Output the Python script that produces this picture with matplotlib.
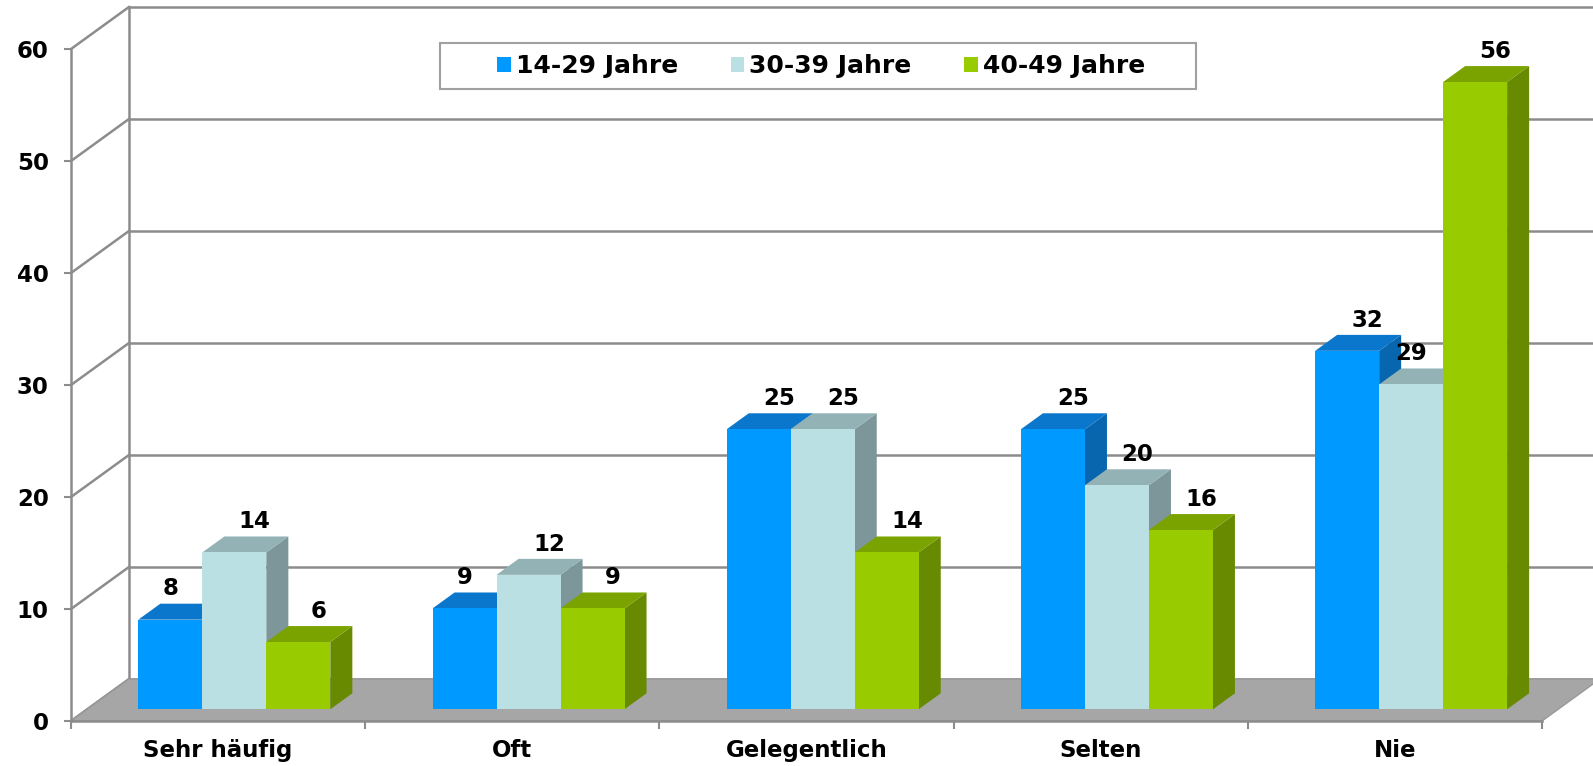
import numpy as np
import matplotlib.pyplot as plt
from matplotlib.patches import Polygon, Rectangle, Patch

plt.rcParams["font.family"] = "DejaVu Sans"
plt.rcParams["font.weight"] = "bold"

categories = ["Sehr häufig", "Oft", "Gelegentlich", "Selten", "Nie"]
series = ["14-29 Jahre", "30-39 Jahre", "40-49 Jahre"]
values_14_29 = [8, 9, 25, 25, 32]
values_30_39 = [14, 12, 25, 20, 29]
values_40_49 = [6, 9, 14, 16, 56]
y_ticks = [0, 10, 20, 30, 40, 50, 60]

# colours: front, top, side
front_cols = ["#0099FF", "#BBE0E3", "#99CC00"]
top_cols = ["#0A77CC", "#93B2B5", "#7AA300"]
side_cols = ["#0866AE", "#7C9699", "#678A00"]
GRID = "#8C8C8C"
FLOOR = "#A6A6A6"

# pseudo 3D geometry (in data units)
DX, DY = 0.197, 3.75      # depth shift of the back wall
F_FRONT, F_BACK = 0.28, 0.66   # bar depth position (fraction of floor depth)
W = 0.2175                 # bar width
GAP = (1 - 3 * W) / 2
X_RIGHT = 5 + DX

fig = plt.figure(figsize=(15.93, 7.66), dpi=100)
ax = fig.add_axes([71 / 1593, 45 / 766, 1471 / 1593, 672 / 766])
ax.set_xlim(0, 5)
ax.set_ylim(0, 60)
ax.patch.set_visible(False)

# back wall + side wall gridlines
for v in y_ticks:
    ax.plot([DX, X_RIGHT], [v + DY, v + DY], color=GRID, lw=1.8, clip_on=False, zorder=1)
    ax.plot([0, DX], [v, v + DY], color=GRID, lw=1.8, clip_on=False, zorder=1)
ax.plot([DX, DX], [DY, 60 + DY], color=GRID, lw=1.8, clip_on=False, zorder=1)

# floor
floor = Polygon([(0, 0), (DX, DY), (X_RIGHT, DY), (5, 0)], closed=True,
                facecolor=FLOOR, edgecolor="#999999", lw=1.0, clip_on=False, zorder=2)
ax.add_patch(floor)


def draw_bar(x0, v, k):
    fx, fy = x0 + F_FRONT * DX, F_FRONT * DY
    bdx, bdy = (F_BACK - F_FRONT) * DX, (F_BACK - F_FRONT) * DY
    side = Polygon([(fx + W, fy), (fx + W + bdx, fy + bdy),
                    (fx + W + bdx, fy + v + bdy), (fx + W, fy + v)],
                   closed=True, facecolor=side_cols[k], edgecolor="none", clip_on=False, zorder=3)
    top = Polygon([(fx, fy + v), (fx + bdx, fy + v + bdy),
                   (fx + W + bdx, fy + v + bdy), (fx + W, fy + v)],
                  closed=True, facecolor=top_cols[k], edgecolor="none", clip_on=False, zorder=3)
    front = Rectangle((fx, fy), W, v, facecolor=front_cols[k], edgecolor="none",
                      clip_on=False, zorder=3)
    for p in (side, top, front):
        ax.add_patch(p)


all_vals = [values_14_29, values_30_39, values_40_49]
for i in range(len(categories)):
    for k in range(3):
        draw_bar(i + GAP + k * W, all_vals[k][i], k)

# data labels
for i in range(len(categories)):
    for k in range(3):
        v = all_vals[k][i]
        cx = i + GAP + k * W + W / 2 + F_FRONT * DX
        nxt = all_vals[k + 1][i] if k < 2 else None
        if nxt is None or nxt <= v:
            cx += 0.35 * DX
        ax.text(cx, v + F_BACK * DY + 0.3, str(v), ha="center", va="bottom",
                fontsize=16.5, fontweight="bold", color="black", zorder=5, clip_on=False)

# axes styling
for s in ("top", "right"):
    ax.spines[s].set_visible(False)
for s in ("left", "bottom"):
    ax.spines[s].set_color(GRID)
    ax.spines[s].set_linewidth(1.8)
    ax.spines[s].set_zorder(4)

ax.set_yticks(y_ticks)
ax.tick_params(axis="y", length=5, width=1.5, color=GRID, pad=11, labelsize=16.5)
ax.set_xticks(range(6))
ax.set_xticklabels([])
ax.tick_params(axis="x", which="major", length=6, width=1.5, color=GRID)
ax.set_xticks(np.arange(len(categories)) + 0.5, minor=True)
ax.set_xticklabels(categories, minor=True)
ax.tick_params(axis="x", which="minor", length=0, pad=13, labelsize=16.5)
for lbl in ax.get_yticklabels() + ax.get_xticklabels(minor=True):
    lbl.set_fontweight("bold")

# legend (frame drawn separately)
fig.patches.append(Rectangle((440 / 1593, 1 - 89 / 766), 756 / 1593, 46 / 766,
                             transform=fig.transFigure, facecolor="white",
                             edgecolor="#A0A0A0", lw=1.5, zorder=4))
handles = [Patch(facecolor=c, edgecolor="none") for c in front_cols]
leg = fig.legend(handles, series, loc="center", ncol=3,
                 bbox_to_anchor=(821 / 1593, 1 - 66 / 766),
                 frameon=False, handlelength=0.55, handleheight=0.55,
                 handletextpad=0.2, columnspacing=2.1,
                 prop={"size": 18, "weight": "bold"})
leg.set_zorder(5)

fig.savefig("out.png", dpi=100)
